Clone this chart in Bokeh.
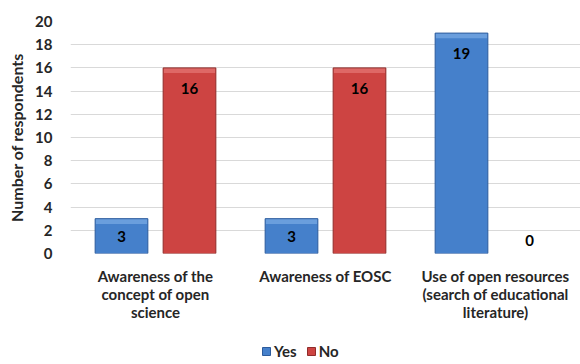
from bokeh.plotting import figure
from bokeh.layouts import column
from bokeh.models import ColumnDataSource, FactorRange, Range1d, Legend, LegendItem, FixedTicker
from bokeh.transform import dodge
from bokeh.core.properties import value
from bokeh.embed import file_html
from bokeh.resources import INLINE

categories = ["Awareness of the\nconcept of open\nscience",
              "Awareness of EOSC",
              "Use of open resources\n(search of educational\nliterature)"]
yes_values = [3, 3, 19]
no_values = [16, 16, 0]
series_names = ["Yes", "No"]
y_ticks = [0, 2, 4, 6, 8, 10, 12, 14, 16, 18, 20]

FONT = "Lato"
TXT = "#262626"
BLUE = "#4580cb"
BLUE_TOP = "#6a9edd"
BLUE_EDGE = "#2c5b9c"
RED = "#cd4442"
RED_TOP = "#de6866"
RED_EDGE = "#902c2a"
BEVEL = 0.45


def label_pos(v):
    if v <= 0:
        return 1.1
    return max(v - 1.75, v / 2.0)


src = ColumnDataSource(dict(
    cat=categories,
    yes=yes_values,
    no=no_values,
    yes_lbl=[str(v) for v in yes_values],
    no_lbl=[str(v) for v in no_values],
    yes_y=[label_pos(v) for v in yes_values],
    no_y=[label_pos(v) for v in no_values],
    yes_bev=[max(v - BEVEL, 0) for v in yes_values],
    no_bev=[max(v - BEVEL, 0) for v in no_values],
    yes_line=[BLUE_EDGE if v > 0 else None for v in yes_values],
    no_line=[RED_EDGE if v > 0 else None for v in no_values],
))

p = figure(width=580, height=340, output_backend="svg", toolbar_location=None,
           x_range=FactorRange(factors=categories, range_padding=0),
           y_range=Range1d(0, 20),
           min_border_left=70, min_border_right=0, min_border_top=21,
           min_border_bottom=87)
p.outline_line_color = None
p.background_fill_color = "white"
p.border_fill_color = "white"

p.xgrid.grid_line_color = None
p.ygrid.grid_line_color = "#d9d9d9"
p.ygrid.grid_line_width = 1

for key, off, fill, top, edge in [("yes", -0.2, BLUE, BLUE_TOP, BLUE_EDGE),
                                  ("no", 0.2, RED, RED_TOP, RED_EDGE)]:
    xd = dodge("cat", off, range=p.x_range)
    p.vbar(x=xd, top=key, width=0.31, source=src, fill_color=fill, line_color=None)
    p.vbar(x=xd, top=key, bottom=key + "_bev", width=0.31, source=src,
           fill_color=top, line_color=None)
    p.vbar(x=xd, top=key, width=0.31, source=src, fill_color=None,
           line_color=key + "_line", line_width=1)
    p.text(x=xd, y=key + "_y", text=key + "_lbl", source=src,
           text_align="center", text_baseline="middle", text_font=value(FONT),
           text_font_style="bold", text_font_size="15px", text_color="black")

# axes
p.yaxis.ticker = FixedTicker(ticks=y_ticks)
p.yaxis.axis_line_color = None
p.yaxis.major_tick_line_color = None
p.yaxis.minor_tick_line_color = None
p.yaxis.major_label_text_font = FONT
p.yaxis.major_label_text_font_style = "bold"
p.yaxis.major_label_text_font_size = "15px"
p.yaxis.major_label_text_color = TXT
p.yaxis.major_label_standoff = 12
p.yaxis.axis_label = "Number of respondents"
p.yaxis.axis_label_text_font = FONT
p.yaxis.axis_label_text_font_style = "bold"
p.yaxis.axis_label_text_font_size = "16px"
p.yaxis.axis_label_text_color = TXT
p.yaxis.axis_label_standoff = 6

p.xaxis.axis_line_color = None
p.xaxis.major_tick_line_color = None
p.xaxis.minor_tick_line_color = None
p.xaxis.major_label_text_font = FONT
p.xaxis.major_label_text_font_style = "bold"
p.xaxis.major_label_text_font_size = "15px"
p.xaxis.major_label_text_color = TXT
p.xaxis.major_label_text_line_height = 1.0
p.xaxis.major_label_standoff = 7
p.xaxis.major_label_orientation = "horizontal"

# legend strip
lg = figure(width=580, height=24, output_backend="svg", toolbar_location=None,
            x_range=Range1d(0, 1), y_range=Range1d(0, 1),
            min_border=0)
lg.axis.visible = False
lg.grid.visible = False
lg.outline_line_color = None
lg.border_fill_color = "white"
lsrc = ColumnDataSource(dict(x=[-5.0], top=[0.0]))
ly = lg.vbar(x="x", top="top", width=0.1, source=lsrc, fill_color=BLUE, line_color=BLUE_EDGE)
ln = lg.vbar(x="x", top="top", width=0.1, source=lsrc, fill_color=RED, line_color=RED_EDGE)
legend = Legend(items=[LegendItem(label=series_names[0], renderers=[ly]),
                       LegendItem(label=series_names[1], renderers=[ln])],
                orientation="horizontal", location=(191, 4),
                label_text_font=FONT, label_text_font_style="bold",
                label_text_font_size="15px", label_text_color=TXT,
                glyph_width=10, glyph_height=10, label_standoff=3, spacing=9,
                padding=0, margin=0, border_line_color=None,
                background_fill_alpha=0, label_height=16)
lg.add_layout(legend, "center")

open("out.html", "w").write(file_html(column(p, lg, spacing=0), INLINE))
